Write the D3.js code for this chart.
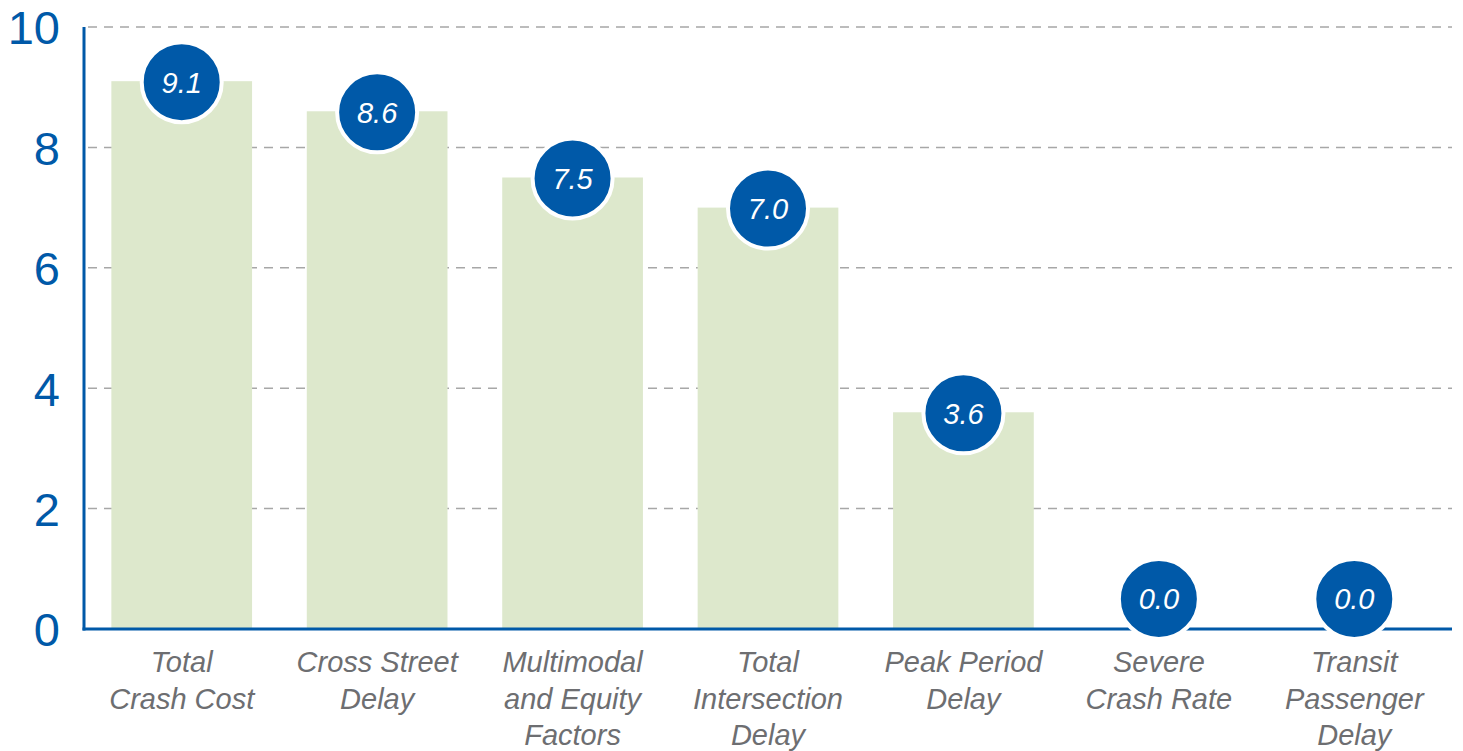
<!DOCTYPE html>
<html>
<head>
<meta charset="utf-8">
<script src="https://cdn.jsdelivr.net/npm/d3@7"></script>
<style>
  body { margin: 0; background: #fff; }
  svg { display: block; }
</style>
</head>
<body>
<div id="chart"></div>
<script>
var width = 1463,
    height = 751,
    blue = '#0059a8',
    barColor = '#dde8cc';

// Data
var categories = ['Total Crash Cost', 'Cross Street Delay', 'Multimodal and Equity Factors',
    'Total Intersection Delay', 'Peak Period Delay', 'Severe Crash Rate', 'Transit Passenger Delay'];
var labelLines = [
    ['Total', 'Crash Cost'],
    ['Cross Street', 'Delay'],
    ['Multimodal', 'and Equity', 'Factors'],
    ['Total', 'Intersection', 'Delay'],
    ['Peak Period', 'Delay'],
    ['Severe', 'Crash Rate'],
    ['Transit', 'Passenger', 'Delay']
];
var values = [9.1, 8.6, 7.5, 7.0, 3.6, 0.0, 0.0];
var yTicks = [0, 2, 4, 6, 8, 10];

var svg = d3.select('#chart')
    .append('svg')
    .attr('width', width)
    .attr('height', height);

// Scales
var x = d3.scaleBand()
    .domain(categories)
    .range([84, 1452])
    .paddingInner(0.28)
    .paddingOuter(0.14);

var y = d3.scaleLinear()
    .domain([0, 10])
    .range([629, 27]);

// Gridlines
svg.append('g')
    .selectAll('line')
    .data(yTicks.filter(function(d) { return d > 0; }))
    .enter()
    .append('line')
    .attr('x1', 88)
    .attr('x2', 1452)
    .attr('y1', function(d) { return y(d); })
    .attr('y2', function(d) { return y(d); })
    .attr('stroke', '#a7a7a7')
    .attr('stroke-width', 1.5)
    .attr('stroke-dasharray', '9,7');

// Bars
svg.append('g')
    .selectAll('rect')
    .data(values)
    .enter()
    .append('rect')
    .attr('x', function(d, i) { return x(categories[i]); })
    .attr('y', function(d) { return y(d); })
    .attr('width', x.bandwidth())
    .attr('height', function(d) { return y(0) - y(d); })
    .attr('fill', barColor);

// Y axis
var yAxis = d3.axisLeft(y)
    .tickValues(yTicks)
    .tickSize(0)
    .tickPadding(24);

var yg = svg.append('g')
    .attr('transform', 'translate(84,0)')
    .call(yAxis);
yg.select('.domain').remove();
yg.selectAll('text')
    .attr('fill', blue)
    .attr('dy', '0.36em')
    .style('font-family', '"Liberation Sans", Arial, sans-serif')
    .style('font-size', '47px');

svg.append('line')
    .attr('x1', 84).attr('x2', 84)
    .attr('y1', y(10)).attr('y2', y(0) + 1.5)
    .attr('stroke', blue)
    .attr('stroke-width', 3);

svg.append('line')
    .attr('x1', 82.5).attr('x2', 1452)
    .attr('y1', y(0)).attr('y2', y(0))
    .attr('stroke', blue)
    .attr('stroke-width', 3);

// X labels
var xl = svg.append('g')
    .selectAll('text')
    .data(labelLines)
    .enter()
    .append('text')
    .attr('text-anchor', 'middle')
    .attr('fill', '#6d6e71')
    .style('font-family', '"Liberation Sans", Arial, sans-serif')
    .style('font-style', 'italic')
    .style('font-size', '29px');

xl.selectAll('tspan')
    .data(function(d, i) {
        return d.map(function(t) { return {t: t, c: categories[i]}; });
    })
    .enter()
    .append('tspan')
    .attr('x', function(d) { return x(d.c) + x.bandwidth() / 2; })
    .attr('y', function(d, j) { return 672 + j * 36.5; })
    .text(function(d) { return d.t; });

// Value bubbles
var bubble = svg.append('g')
    .selectAll('g')
    .data(values)
    .enter()
    .append('g')
    .attr('transform', function(d, i) {
        return 'translate(' + (x(categories[i]) + x.bandwidth() / 2) + ',' + (d === 0 ? y(d) - 30 : y(d) + 1) + ')';
    });

bubble.append('circle')
    .attr('r', 40)
    .attr('fill', blue)
    .attr('stroke', '#fff')
    .attr('stroke-width', 4);

bubble.append('text')
    .attr('text-anchor', 'middle')
    .attr('dy', '0.36em')
    .attr('fill', '#fff')
    .style('font-family', '"Liberation Sans", Arial, sans-serif')
    .style('font-style', 'italic')
    .style('font-size', '29px')
    .text(function(d) { return d.toFixed(1); });
</script>
</body>
</html>
